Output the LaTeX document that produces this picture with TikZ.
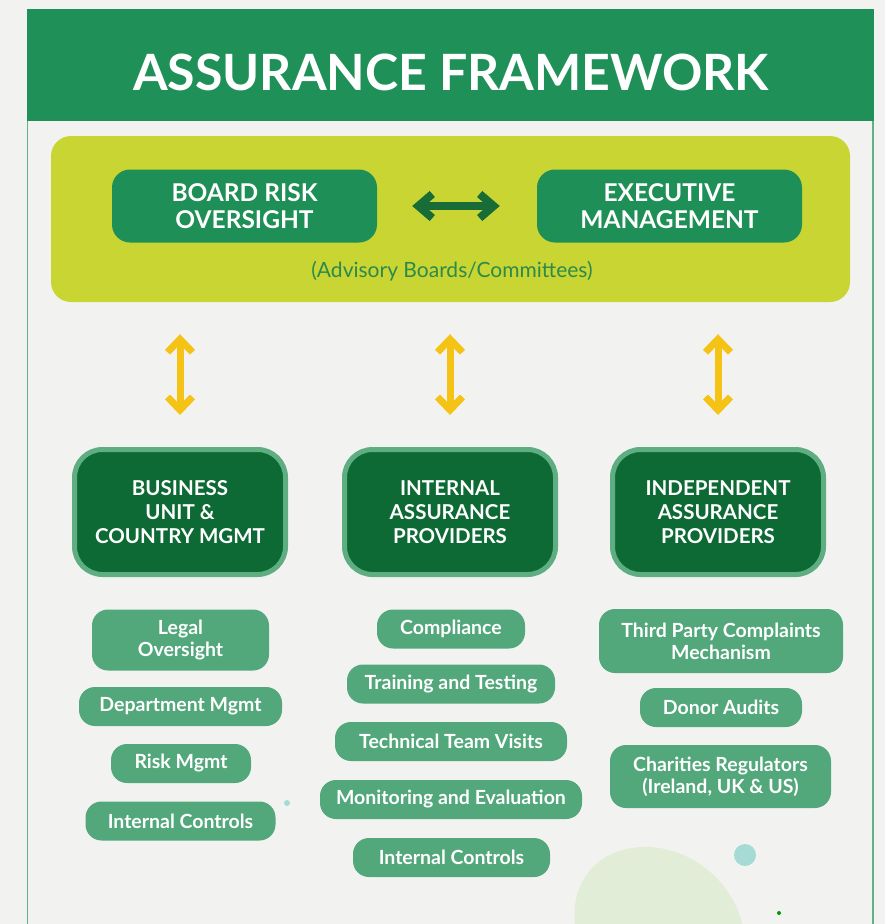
\documentclass[tikz,border=0pt]{standalone}
\usepackage{fontspec}
\setmainfont{Lato}
\newfontfamily\latob{Lato Bold}
\usetikzlibrary{arrows.meta,calc}
\definecolor{paper}{HTML}{F2F3F0}
\definecolor{headc}{HTML}{1F9158}
\definecolor{framec}{HTML}{62B08A}
\definecolor{ybox}{HTML}{C8D532}
\definecolor{boardc}{HTML}{1E8F56}
\definecolor{darkarr}{HTML}{176C37}
\definecolor{advc}{HTML}{2C8A4B}
\definecolor{yarr}{HTML}{F4C316}
\definecolor{bigc}{HTML}{0D6A34}
\definecolor{bigb}{HTML}{5EAE82}
\definecolor{pillc}{HTML}{52A77B}
\definecolor{blobc}{HTML}{C2E3A8}
\definecolor{tealc}{HTML}{A6DBD5}
\tikzset{
  topbox/.style={fill=boardc, rounded corners=18pt, text=white, align=center,
    minimum width=265pt, minimum height=73pt, inner sep=0pt,
    font=\latob\fontsize{24.5}{27}\selectfont},
  bigbox/.style={fill=bigc, draw=bigb, line width=5pt, rounded corners=28pt,
    text=white, align=center, minimum width=211pt, minimum height=125pt,
    inner sep=0pt, font=\latob\fontsize{20.5}{24}\selectfont},
  pill/.style={fill=pillc, rounded corners=16pt, text=white, align=center,
    minimum height=39pt, inner sep=0pt,
    font=\latob\fontsize{19.5}{22}\selectfont},
  yarrow/.style={draw=yarr, line width=7pt,
    {Straight Barb[length=13pt,width=25pt]}-{Straight Barb[length=13pt,width=25pt]}},
  garrow/.style={draw=darkarr, line width=8pt,
    {Straight Barb[length=14pt,width=24pt]}-{Straight Barb[length=14pt,width=24pt]}},
}
\begin{document}
\begin{tikzpicture}[x=1pt,y=-1pt]
\useasboundingbox (0,0) rectangle (885,924);
\fill[paper] (0,0) rectangle (885,924);
% decorative watercolour
\fill[blobc, opacity=0.35] (575,924) .. controls (570,880) and (600,845) .. (650,847)
  .. controls (700,850) and (735,890) .. (742,924) -- cycle;
\fill[tealc] (745,855) circle (11pt);
\fill[tealc] (287,803) circle (3pt);
\fill[green!60!black] (779,913) circle (2pt);
% frame
\draw[framec, line width=1.5pt] (27.5,121) -- (27.5,924);
\draw[framec, line width=1.5pt] (873,121) -- (873,924);
\node[fill=headc, minimum width=847pt, minimum height=112pt, inner sep=0pt,
  anchor=north west] (header) at (27,9) {};
\node[text=white, font=\latob\fontsize{50}{50}\selectfont] (title) at (451,72) {ASSURANCE FRAMEWORK};
% governance box
\node[fill=ybox, rounded corners=20pt, minimum width=799pt, minimum height=166pt,
  inner sep=0pt] (yb) at (450.5,219) {};
\node[topbox] (board) at (244.5,206) {BOARD RISK\\OVERSIGHT};
\node[topbox] (exec) at (669.5,206) {EXECUTIVE\\MANAGEMENT};
\node[text=advc, font=\fontsize{21}{22}\selectfont] (adv) at (452,271) {(Advisory Boards/Committees)};
\draw[garrow] ([xshift=35pt]board.east) -- ([xshift=-37pt]exec.west);
% main boxes
\node[bigbox] (bu) at (180,512) {BUSINESS\\UNIT \&\\COUNTRY MGMT};
\node[bigbox] (iap) at (450,512) {INTERNAL\\ASSURANCE\\PROVIDERS};
\node[bigbox] (iip) at (718,512) {INDEPENDENT\\ASSURANCE\\PROVIDERS};
\foreach \b in {bu,iap,iip}{
  \draw[yarrow] ([yshift=-32pt]\b.north |- yb.south) -- ([yshift=32pt]\b.north);
}
% left column
\node[pill, minimum width=177pt, minimum height=61pt] (legal) at (180.5,640) {Legal\\Oversight};
\node[pill, minimum width=203pt] (dept) at (180.5,706.5) {Department Mgmt};
\node[pill, minimum width=140pt] (risk) at (181,763.5) {Risk Mgmt};
\node[pill, minimum width=190pt] (icl) at (180.5,821) {Internal Controls};
% middle column
\node[pill, minimum width=148pt] (comp) at (451,629) {Compliance};
\node[pill, minimum width=208pt] (train) at (451,684) {Training and Testing};
\node[pill, minimum width=232pt] (tech) at (451,741.5) {Technical Team Visits};
\node[pill, minimum width=262pt] (mon) at (451,799.5) {Monitoring and Evaluation};
\node[pill, minimum width=197pt] (icm) at (451.5,857.5) {Internal Controls};
% right column
\node[pill, minimum width=244pt, minimum height=64pt] (third) at (721,641) {Third Party Complaints\\Mechanism};
\node[pill, minimum width=162pt] (donor) at (721,707.5) {Donor Audits};
\node[pill, minimum width=221pt, minimum height=63pt] (char) at (720.5,776.5) {Charities Regulators\\(Ireland, UK \& US)};
\end{tikzpicture}
\end{document}
